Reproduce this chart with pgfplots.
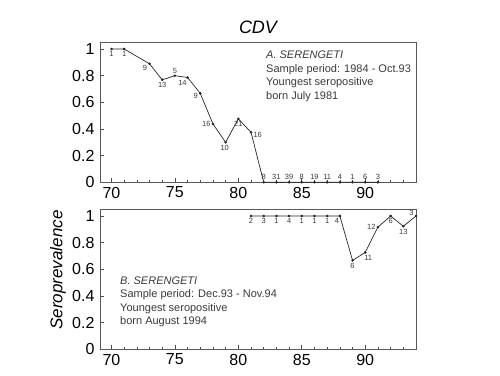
\documentclass[border=0pt]{standalone}
\usepackage{fontspec}
\setmainfont{Liberation Sans}
\usepackage{pgfplots}
\pgfplotsset{compat=1.18}

\definecolor{txt}{HTML}{3A3A3A}

\pgfplotsset{
  panel/.style={
    scale only axis, width=316pt, height=140.3pt,
    xmin=69.1, xmax=94, ymin=0, ymax=1.0525,
    clip=false,
    axis line style={draw=black!65, line width=0.8pt},
    xtick={70,75,80,85,90},
    minor xtick={71,72,73,74,76,77,78,79,81,82,83,84,86,87,88,89,91,92,93},
    ytick={0,0.2,0.4,0.6,0.8,1},
    yticklabels={0,0.2,0.4,0.6,0.8,1},
    xticklabels={70,75,80,85,90},
    tick pos=left,
    tick align=inside,
    major tick length=4pt,
    minor tick length=2.5pt,
    tick style={black!70, line width=0.6pt},
    ticklabel style={font=\fontsize{16}{16}\selectfont, text=black},
    yticklabel style={xshift=-2pt},
    xticklabel style={yshift=-1pt},
    /pgf/number format/assume math mode=true,
  },
  series/.style={
    black!85, line width=0.7pt, mark=*, mark size=0.9pt,
    mark options={fill=black},
  },
  labs/.style={
    draw=none, mark=none, forget plot,
    nodes near coords,
    point meta=explicit symbolic,
    every node near coord/.style={anchor=#1,
      font=\fontsize{7.5}{7.5}\selectfont, text=txt, inner sep=2.3pt},
  },
}

\begin{document}
\begin{tikzpicture}
\path[use as bounding box] (0pt,0pt) rectangle (500pt,375pt);

\begin{axis}[panel, at={(100pt,192.7pt)}, anchor=south west]
\addplot[series] coordinates {
 (70,1.000) (71,1.000) (73,0.889) (74,0.769) (75,0.800) (76,0.786)
 (77,0.667) (78,0.4375) (79,0.300) (80,0.476) (81,0.375)
 (82,0) (83,0) (84,0) (85,0) (86,0) (87,0) (88,0) (89,0) (90,0) (91,0)};
\addplot[labs=90] coordinates {(70,1.000)[1] (71,1.000)[1] (74,0.769)[13] (80,0.476)[21]};
\addplot[labs=80] coordinates {(79,0.300)[10]};
\addplot[labs=45] coordinates {(73,0.889)[9] (76,0.786)[14]};
\addplot[labs=30] coordinates {(77,0.667)[9]};
\addplot[labs=0] coordinates {(78,0.4375)[16]};
\addplot[labs=160] coordinates {(81,0.375)[16]};
\addplot[labs=270] coordinates {(75,0.800)[5] (82,0)[8] (83,0)[31] (84,0)[39]
 (85,0)[8] (86,0)[19] (87,0)[11] (88,0)[4] (89,0)[1] (90,0)[6] (91,0)[3]};
\end{axis}

\begin{axis}[panel, at={(100pt,25.7pt)}, anchor=south west]
\addplot[series] coordinates {
 (81,1.000) (82,1.000) (83,1.000) (84,1.000) (85,1.000) (86,1.000)
 (87,1.000) (88,1.000) (89,0.667) (90,0.727) (91,0.917) (92,1.000)
 (93,0.923) (94,1.000)};
\addplot[labs=90] coordinates {(81,1)[2] (82,1)[3] (83,1)[1] (84,1)[4]
 (85,1)[1] (86,1)[1] (87,1)[1] (89,0.667)[6] (92,1.000)[6] (93,0.923)[13]};
\addplot[labs=60] coordinates {(88,1)[4]};
\addplot[labs=120] coordinates {(90,0.727)[11]};
\addplot[labs=0] coordinates {(91,0.917)[12]};
\addplot[labs=330] coordinates {(94,1.000)[3]};
\end{axis}

\node[anchor=north west, align=left, inner sep=0pt, text=txt,
      font=\fontsize{11}{13.5}\selectfont] at (266pt,324pt)
  {\textit{A. SERENGETI}\\Sample period: 1984 - Oct.93\\Youngest seropositive\\born July 1981};

\node[anchor=north west, align=left, inner sep=0pt, text=txt,
      font=\fontsize{11}{13.3}\selectfont] at (120pt,98.3pt)
  {\textit{B. SERENGETI}\\Sample period: Dec.93 - Nov.94\\Youngest seropositive\\born August 1994};

\node[font=\fontsize{18}{18}\selectfont\itshape] at (258pt,347.5pt) {CDV};
\node[rotate=90, font=\fontsize{17}{17}\selectfont\itshape] at (58pt,105pt) {Seroprevalence};
\end{tikzpicture}
\end{document}
